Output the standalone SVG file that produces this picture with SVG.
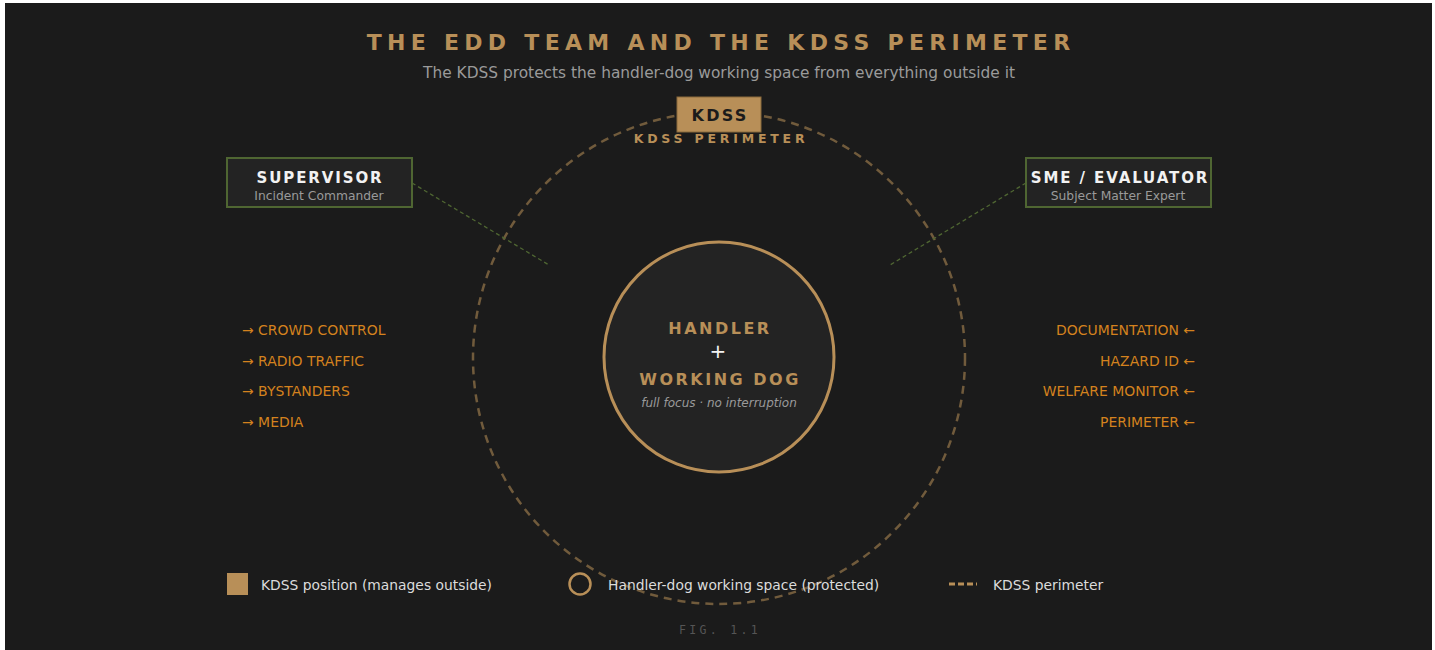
<svg xmlns="http://www.w3.org/2000/svg" width="1435" height="650" viewBox="0 0 1435 650">
<style>
.title{font-family:"DejaVu Sans",sans-serif;font-weight:bold;font-size:22px;letter-spacing:5.3px;fill:#b88f58}
.sub{font-family:"DejaVu Sans",sans-serif;font-size:15.4px;fill:#9a9a9a}
.role{fill:#232323;stroke:#4f6632;stroke-width:2}
.roleT{font-family:"DejaVu Sans",sans-serif;font-weight:bold;font-size:15px;letter-spacing:1.9px;fill:#f2f2f2}
.roleS{font-family:"DejaVu Sans",sans-serif;font-size:12.3px;fill:#9a9a9a}
.item{font-family:"DejaVu Sans",sans-serif;font-size:13.95px;fill:#d4821e}
.core{font-family:"DejaVu Sans",sans-serif;font-weight:bold;font-size:16px;letter-spacing:2.5px;fill:#b88f58}
.leg{font-family:"DejaVu Sans",sans-serif;font-size:13.85px;fill:#dcdcdc}
.link{stroke:#4f6632;stroke-width:1.3;stroke-dasharray:4 3;fill:none}
</style>
<rect x="0" y="0" width="1435" height="650" fill="#ffffff"/>
<rect x="5" y="3" width="1427" height="647" fill="#1b1b1b"/>

<text class="title" x="721" y="50" text-anchor="middle">THE EDD TEAM AND THE KDSS PERIMETER</text>
<text class="sub" x="719" y="78" text-anchor="middle">The KDSS protects the handler-dog working space from everything outside it</text>

<g id="perimeter">
<circle cx="719" cy="358" r="246" fill="none" stroke="#b88f58" stroke-opacity="0.55" stroke-width="2.5" stroke-dasharray="8 6"/>
<text x="721" y="143" text-anchor="middle" font-family="DejaVu Sans, sans-serif" font-weight="bold" font-size="12.5" letter-spacing="3.8" fill="#b88f58">KDSS PERIMETER</text>
</g>

<g id="connectors">
<line class="link" x1="412" y1="183" x2="549" y2="265"/>
<line class="link" x1="1026" y1="183" x2="890" y2="265"/>
</g>

<g id="kdss">
<rect x="677" y="97" width="84" height="35" fill="#b88f58" stroke="#8a6a3c" stroke-width="1"/>
<text x="720" y="121" text-anchor="middle" font-family="DejaVu Sans, sans-serif" font-weight="bold" font-size="16" letter-spacing="2.2" fill="#1b1b1b">KDSS</text>
</g>

<g id="supervisor">
<rect class="role" x="227" y="158" width="185" height="49"/>
<text class="roleT" x="320" y="183" text-anchor="middle">SUPERVISOR</text>
<text class="roleS" x="319" y="200" text-anchor="middle">Incident Commander</text>
</g>

<g id="sme">
<rect class="role" x="1026" y="158" width="185" height="49"/>
<text class="roleT" x="1120" y="183" text-anchor="middle">SME / EVALUATOR</text>
<text class="roleS" x="1118" y="200" text-anchor="middle">Subject Matter Expert</text>
</g>

<g id="core">
<circle cx="719" cy="357" r="115" fill="#232323" stroke="#b88f58" stroke-width="3"/>
<text class="core" x="720" y="334" text-anchor="middle">HANDLER</text>
<text x="718" y="358" text-anchor="middle" font-family="DejaVu Sans, sans-serif" font-size="20" fill="#f2f2f2">+</text>
<text class="core" x="720" y="385" text-anchor="middle">WORKING DOG</text>
<text x="719" y="407" text-anchor="middle" font-family="DejaVu Sans, sans-serif" font-style="italic" font-size="12" fill="#9a9a9a">full focus · no interruption</text>
</g>

<g id="outside-left">
<text class="item" x="242" y="335">→ CROWD CONTROL</text>
<text class="item" x="242" y="366">→ RADIO TRAFFIC</text>
<text class="item" x="242" y="396">→ BYSTANDERS</text>
<text class="item" x="242" y="427">→ MEDIA</text>
</g>

<g id="outside-right">
<text class="item" x="1195" y="335" text-anchor="end">DOCUMENTATION ←</text>
<text class="item" x="1195" y="366" text-anchor="end">HAZARD ID ←</text>
<text class="item" x="1195" y="396" text-anchor="end">WELFARE MONITOR ←</text>
<text class="item" x="1195" y="427" text-anchor="end">PERIMETER ←</text>
</g>

<g id="legend">
<rect x="227" y="573" width="21" height="22" fill="#b88f58"/>
<text class="leg" x="261" y="590">KDSS position (manages outside)</text>
<circle cx="580" cy="584" r="10.5" fill="none" stroke="#b88f58" stroke-width="2.5"/>
<text class="leg" x="608" y="590">Handler-dog working space (protected)</text>
<line x1="949" y1="584" x2="977" y2="584" stroke="#b88f58" stroke-width="3" stroke-dasharray="6 3"/>
<text class="leg" x="993" y="590">KDSS perimeter</text>
</g>

<text x="720" y="634" text-anchor="middle" font-family="DejaVu Sans Mono, monospace" font-size="11.5" letter-spacing="3.3" fill="#555555">FIG. 1.1</text>
</svg>
